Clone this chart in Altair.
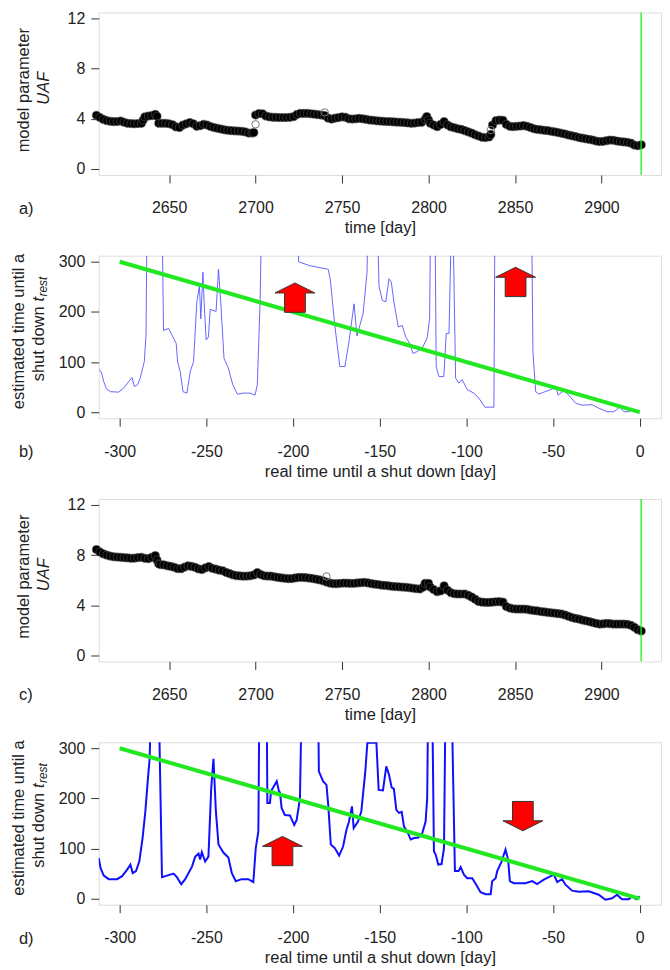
import altair as alt
import pandas as pd

FONT = "Liberation Sans"
TXT = "#222222"
BOX = "#333333"
W, H = 564, 163

# ---------------- data ----------------
# panel a: model parameter UAF over time (day, value)
uaf_a_points = [
    (2608, 4.28), (2610, 4.10), (2612, 3.95), (2614, 3.85), (2616, 3.80), (2618, 3.77), (2620, 3.78),
    (2622, 3.82), (2624, 3.72), (2626, 3.64), (2628, 3.62), (2630, 3.60), (2632, 3.62), (2634, 3.64),
    (2635, 3.90), (2636, 4.15), (2638, 4.22), (2640, 4.25), (2642, 4.35), (2643, 4.20), (2644, 3.64),
    (2646, 3.64), (2648, 3.64), (2650, 3.60), (2652, 3.52), (2654, 3.35), (2656, 3.30), (2658, 3.50),
    (2660, 3.60), (2662, 3.70), (2664, 3.60), (2666, 3.40), (2668, 3.45), (2670, 3.56), (2672, 3.50),
    (2674, 3.38), (2676, 3.30), (2678, 3.24), (2680, 3.18), (2682, 3.12), (2684, 3.08), (2686, 3.05),
    (2688, 3.03), (2690, 3.02), (2692, 3.00), (2694, 2.95), (2696, 2.86), (2698, 2.86), (2699, 2.90),
    (2700, 4.30), (2702, 4.42), (2704, 4.40), (2706, 4.22), (2708, 4.15), (2710, 4.12), (2712, 4.11),
    (2714, 4.10), (2716, 4.10), (2718, 4.10), (2720, 4.12), (2722, 4.17), (2724, 4.35), (2726, 4.43),
    (2728, 4.43), (2730, 4.43), (2732, 4.40), (2734, 4.37), (2736, 4.33), (2738, 4.30), (2740, 4.25),
    (2742, 4.05), (2744, 3.98), (2746, 4.05), (2748, 4.10), (2750, 4.15), (2752, 4.12), (2754, 4.00),
    (2756, 3.98), (2758, 4.00), (2760, 4.03), (2762, 4.00), (2764, 3.95), (2766, 3.90), (2768, 3.88),
    (2770, 3.84), (2772, 3.82), (2774, 3.80), (2776, 3.78), (2778, 3.77), (2780, 3.75), (2782, 3.73),
    (2784, 3.72), (2786, 3.70), (2788, 3.67), (2790, 3.64), (2792, 3.66), (2794, 3.70), (2796, 3.72),
    (2798, 3.95), (2799, 4.17), (2800, 3.90), (2801, 3.64), (2803, 3.50), (2805, 3.37), (2807, 3.55),
    (2809, 3.77), (2811, 3.50), (2813, 3.35), (2815, 3.28), (2817, 3.20), (2819, 3.15), (2821, 3.05),
    (2823, 2.95), (2825, 2.85), (2827, 2.72), (2829, 2.62), (2831, 2.52), (2833, 2.50), (2835, 2.55),
    (2836, 2.75), (2837, 3.50), (2839, 3.85), (2841, 3.90), (2843, 3.88), (2845, 3.55), (2847, 3.40),
    (2849, 3.37), (2851, 3.40), (2853, 3.42), (2855, 3.45), (2857, 3.40), (2859, 3.30), (2861, 3.20),
    (2863, 3.15), (2865, 3.12), (2867, 3.08), (2869, 3.05), (2871, 3.00), (2873, 2.95), (2875, 2.90),
    (2877, 2.84), (2879, 2.78), (2881, 2.70), (2883, 2.64), (2885, 2.58), (2887, 2.50), (2889, 2.45),
    (2891, 2.40), (2893, 2.35), (2895, 2.30), (2897, 2.22), (2899, 2.18), (2901, 2.20), (2903, 2.25),
    (2905, 2.30), (2907, 2.28), (2909, 2.22), (2911, 2.18), (2913, 2.15), (2915, 2.12), (2917, 2.05),
    (2919, 1.90), (2921, 1.85), (2923, 1.92),
]
uaf_a_open = [(2700, 3.56), (2740, 4.51), (2836, 3.10)]

# panel c: model parameter UAF over time (day, value)
uaf_c_points = [
    (2608, 8.45), (2610, 8.25), (2612, 8.10), (2614, 8.00), (2616, 7.92), (2618, 7.87), (2620, 7.85),
    (2622, 7.83), (2624, 7.80), (2626, 7.78), (2628, 7.75), (2630, 7.76), (2632, 7.80), (2634, 7.83),
    (2636, 7.75), (2638, 7.72), (2640, 7.83), (2642, 7.96), (2643, 7.60), (2644, 7.30), (2645, 7.25),
    (2647, 7.22), (2649, 7.15), (2651, 7.10), (2653, 7.03), (2655, 6.92), (2657, 6.92), (2659, 7.05),
    (2661, 7.15), (2663, 7.10), (2665, 7.03), (2667, 6.90), (2669, 6.85), (2671, 6.98), (2673, 7.08),
    (2675, 6.95), (2677, 6.88), (2679, 6.80), (2681, 6.75), (2683, 6.62), (2685, 6.52), (2687, 6.42),
    (2689, 6.36), (2691, 6.34), (2693, 6.32), (2695, 6.33), (2697, 6.35), (2699, 6.42), (2701, 6.60),
    (2703, 6.45), (2705, 6.35), (2707, 6.33), (2709, 6.32), (2711, 6.27), (2713, 6.22), (2715, 6.18),
    (2717, 6.15), (2719, 6.12), (2721, 6.13), (2723, 6.18), (2725, 6.22), (2727, 6.22), (2729, 6.20),
    (2731, 6.17), (2733, 6.13), (2735, 6.08), (2737, 6.02), (2739, 5.95), (2741, 5.85), (2743, 5.77),
    (2745, 5.72), (2747, 5.72), (2749, 5.75), (2751, 5.77), (2753, 5.76), (2755, 5.75), (2757, 5.75),
    (2759, 5.78), (2761, 5.80), (2763, 5.82), (2765, 5.78), (2767, 5.72), (2769, 5.68), (2771, 5.65),
    (2773, 5.60), (2775, 5.58), (2777, 5.55), (2779, 5.51), (2781, 5.49), (2783, 5.47), (2785, 5.45),
    (2787, 5.43), (2789, 5.40), (2791, 5.36), (2793, 5.32), (2795, 5.30), (2797, 5.45), (2798, 5.75),
    (2800, 5.75), (2801, 5.45), (2803, 5.25), (2805, 5.08), (2807, 5.15), (2809, 5.55), (2811, 5.20),
    (2813, 5.00), (2815, 4.92), (2817, 4.90), (2819, 4.90), (2821, 4.90), (2823, 4.80), (2825, 4.65),
    (2827, 4.48), (2829, 4.30), (2831, 4.25), (2833, 4.23), (2835, 4.23), (2837, 4.25), (2839, 4.28),
    (2841, 4.29), (2843, 4.25), (2845, 3.90), (2847, 3.78), (2849, 3.72), (2851, 3.70), (2853, 3.70),
    (2855, 3.70), (2857, 3.68), (2859, 3.62), (2861, 3.58), (2863, 3.55), (2865, 3.50), (2867, 3.47),
    (2869, 3.43), (2871, 3.40), (2873, 3.37), (2875, 3.33), (2877, 3.30), (2879, 3.22), (2881, 3.12),
    (2883, 3.02), (2885, 2.95), (2887, 2.90), (2889, 2.82), (2891, 2.76), (2893, 2.70), (2895, 2.62),
    (2897, 2.55), (2899, 2.50), (2901, 2.52), (2903, 2.55), (2905, 2.53), (2907, 2.50), (2909, 2.50),
    (2911, 2.50), (2913, 2.50), (2915, 2.48), (2917, 2.40), (2919, 2.25), (2921, 2.05), (2923, 1.95),
]
uaf_c_open = [(2741, 6.30)]

shutdown_day = 2922.9

# panel b: estimated time until shut down vs real time until shut down
days_b = [-312.1, -310.7, -309.2, -307.7, -305.4, -300.6, -297.7, -294.8, -292.9, -291.5, -289.6, -288.1,
          -285.8, -284.8, -284.2, -275.6, -274.7, -271.8, -269.3, -267.4, -266.6, -265.1, -263.5, -261.2,
          -259.3, -257.4, -255.5, -254.0, -253.2, -252.0, -251.3, -250.1, -248.8, -247.8, -244.4, -243.0,
          -241.7, -239.8, -237.3, -234.8, -232.1, -228.7, -224.8, -221.9, -220.6, -219.0, -218.1, -197.0,
          -196.8, -190.3, -179.7, -178.4, -175.9, -173.0, -170.1, -167.7, -164.8, -163.1, -159.6, -157.3,
          -156.7, -151.4, -150.4, -148.5, -146.5, -144.6, -143.3, -141.8, -139.3, -137.0, -135.0, -132.7,
          -130.8, -128.3, -125.4, -122.6, -121.2, -120.6, -118.1, -117.4, -115.8, -113.0, -111.6, -110.0,
          -108.5, -107.8, -106.2, -104.3, -102.4, -99.5, -95.6, -92.8, -89.3, -84.1, -83.5, -62.4, -61.6,
          -60.0, -58.2, -55.3, -51.4, -48.2, -47.1, -43.8, -41.5, -37.0, -33.2, -27.5, -23.6, -18.8, -14.9,
          -11.5, -9.2, -6.3, -4.0, -1.5, 0.0]
trest_b = [85, 81, 61, 47, 41, 40, 48, 61, 69, 51, 55, 69,
           101, 154, 400, 400, 163, 167, 150, 137, 101, 81, 41, 38,
           81, 101, 219, 252, 186, 279, 219, 144, 150, 205, 201, 285,
           219, 107, 88, 55, 36, 38, 38, 34, 55, 219, 400, 400,
           300, 292, 285, 262, 173, 91, 91, 141, 216, 152, 196, 279,
           400, 400, 252, 223, 220, 266, 259, 220, 170, 173, 150, 137,
           117, 121, 128, 148, 186, 400, 400, 91, 71, 71, 157, 157,
           400, 400, 68, 58, 65, 45, 38, 28, 10, 10, 400, 400, 121,
           41, 36, 40, 45, 49, 34, 43, 36, 18, 14, 15, 8, 1, 1,
           10, 1, 1, 5, 4, 0]

# panel d
days_d = [-312.1, -311.0, -309.2, -306.3, -301.5, -298.6, -295.7, -293.8, -292.5, -290.6, -288.7, -286.8,
          -285.2, -283.7, -282.7, -281.9, -277.5, -275.6, -272.7, -268.9, -267.0, -264.5, -262.2, -258.3,
          -256.4, -254.5, -253.6, -252.6, -250.7, -248.8, -247.2, -245.9, -244.5, -243.0, -240.2, -237.3,
          -235.3, -233.0, -229.6, -225.8, -222.9, -221.5, -220.0, -219.4, -215.2, -214.8, -213.3, -212.7,
          -209.4, -208.1, -207.5, -206.6, -204.7, -201.8, -199.3, -197.9, -196.0, -195.0, -185.5, -185.1,
          -182.6, -180.7, -179.7, -178.2, -175.9, -173.4, -171.1, -169.2, -167.7, -166.0, -165.0, -162.5,
          -160.6, -158.3, -157.1, -151.9, -150.6, -148.1, -146.2, -144.6, -143.1, -141.8, -140.4, -138.9,
          -137.3, -136.0, -134.1, -132.1, -130.2, -127.7, -125.4, -123.5, -122.6, -122.0, -119.7, -118.7,
          -117.7, -116.2, -114.3, -112.9, -112.0, -108.5, -106.6, -104.5, -103.3, -101.4, -99.5, -96.6,
          -94.3, -91.8, -88.9, -86.0, -85.1, -83.1, -82.2, -79.7, -77.4, -75.9, -74.9, -72.6, -69.7, -65.9,
          -62.0, -59.2, -55.3, -52.4, -49.5, -47.6, -44.8, -42.8, -39.0, -35.1, -29.4, -23.6, -19.8, -15.9,
          -13.1, -10.2, -6.3, -4.4, -2.1, 0.0]
trest_d = [81, 61, 46, 39, 39, 45, 58, 68, 51, 55, 74, 121,
           174, 240, 280, 400, 400, 43, 46, 50, 43, 29, 39, 64,
           84, 90, 78, 93, 74, 84, 220, 279, 174, 108, 92, 82,
           51, 35, 39, 39, 33, 101, 134, 400, 400, 191, 191, 214,
           234, 214, 212, 181, 167, 166, 147, 157, 200, 400, 400, 254,
           234, 227, 187, 108, 101, 86, 104, 137, 154, 184, 141, 154,
           174, 254, 311, 311, 217, 216, 264, 247, 222, 219, 177, 171,
           173, 144, 134, 118, 121, 122, 131, 154, 200, 400, 400, 94,
           88, 68, 69, 101, 400, 400, 55, 55, 63, 48, 41, 41,
           28, 13, 9, 9, 35, 41, 55, 74, 98, 78, 35, 31, 31, 31,
           35, 29, 38, 43, 48, 33, 39, 28, 16, 14, 15, 8, -2, 1,
           8, -1, -1, 5, -1, 5]

ideal_days = [-300, 0]
ideal_trest = [300, 0]

arrows_b = [(-198.9, 228.4, "up"), (-71.6, 259.7, "up")]
arrows_d = [(-206.1, 95.0, "up"), (-67.4, 164.7, "down")]

time_ticks = [2650, 2700, 2750, 2800, 2850, 2900]
uaf_ticks = [0, 2, 4, 6, 8, 10, 12]
real_ticks = [-300, -250, -200, -150, -100, -50, 0]
trest_ticks = [0, 50, 100, 150, 200, 250, 300]

UP = "M0,-0.735L1,-0.235L0.52,-0.235L0.52,0.735L-0.52,0.735L-0.52,-0.235L-1,-0.235Z"
DOWN = "M0,0.735L1,0.235L0.52,0.235L0.52,-0.735L-0.52,-0.735L-0.52,0.235L-1,0.235Z"


def make_axis(**kw):
    base = dict(domain=False, grid=False, ticks=True, tickColor=BOX, tickSize=8, tickWidth=1,
                labelFont=FONT, labelFontSize=16, labelColor=TXT, labelOverlap=False,
                titleFont=FONT, titleFontSize=16.5, titleFontWeight="normal", titleColor=TXT)
    base.update(kw)
    return alt.Axis(**base)


def text_layer(text, x, y, size=16.5, italic=False, align="center", angle=0):
    kw = dict(text=text, font=FONT, fontSize=size, color=TXT, align=align, baseline="middle")
    if italic:
        kw["fontStyle"] = "italic"
    if angle:
        kw["angle"] = angle
    return alt.Chart(alt.Data(values=[{"k": 1}])).mark_text(**kw).encode(
        x=alt.value(x), y=alt.value(y))


def uaf_panel(points, opens, letter):
    df = pd.DataFrame(points, columns=["day", "uaf"])
    odf = pd.DataFrame(opens, columns=["day", "uaf"])
    xs = alt.Scale(domain=[2609.3, 2934.4], nice=False, zero=False)
    ys = alt.Scale(domain=[-0.48, 12.48], nice=False, zero=False)
    xax = make_axis(values=time_ticks, title="time [day]", labelPadding=17, titlePadding=4,
                    labelExpr="'' + datum.value")
    yax = make_axis(values=uaf_ticks, title=None, labelPadding=6,
                    labelExpr="datum.value % 4 === 0 ? '' + datum.value : ''")
    pts = alt.Chart(df).mark_circle(size=68, color="black", opacity=1, stroke="#555555",
                                    strokeWidth=0.6).encode(
        x=alt.X("day:Q", scale=xs, axis=xax),
        y=alt.Y("uaf:Q", scale=ys, axis=yax))
    opn = alt.Chart(odf).mark_point(size=55, color="#777777", filled=False, strokeWidth=1,
                                    opacity=1).encode(x="day:Q", y="uaf:Q")
    vline = alt.Chart(pd.DataFrame({"day": [shutdown_day]})).mark_rule(
        color="#1ef01e", strokeWidth=1.3).encode(x="day:Q")
    return alt.layer(
        pts, opn, vline,
        text_layer("model parameter", -75, 78, angle=270),
        text_layer("UAF", -55, 76, italic=True, angle=270),
        text_layer(letter, -80, H + 34, align="left"),
    ).properties(width=W, height=H)


def trest_panel(days, vals, arrows, letter, color, width, opacity):
    df = pd.DataFrame({"day": days, "trest": vals})
    idf = pd.DataFrame({"day": ideal_days, "trest": ideal_trest})
    xs = alt.Scale(domain=[-312.1, 12.3], nice=False, zero=False)
    ys = alt.Scale(domain=[-12, 312], nice=False, zero=False)
    xax = make_axis(values=real_ticks, title="real time until a shut down [day]", labelPadding=17,
                    titlePadding=4, labelExpr="'' + datum.value")
    yax = make_axis(values=trest_ticks, title=None, labelPadding=6,
                    labelExpr="datum.value % 100 === 0 ? '' + datum.value : ''")
    line = alt.Chart(df).mark_line(color=color, strokeWidth=width, opacity=opacity, clip=True).encode(
        x=alt.X("day:Q", scale=xs, axis=xax),
        y=alt.Y("trest:Q", scale=ys, axis=yax))
    ideal = alt.Chart(idf).mark_line(color="#22e822", strokeWidth=4).encode(x="day:Q", y="trest:Q")
    layers = [line, ideal]
    for (ax, ay, d) in arrows:
        adf = pd.DataFrame({"day": [ax], "trest": [ay]})
        layers.append(alt.Chart(adf).mark_point(
            shape=UP if d == "up" else DOWN, size=1600, filled=True, color="#ff0000",
            stroke="#333333", strokeWidth=1, opacity=1).encode(x="day:Q", y="trest:Q"))
    # y title: two lines, second with italic t and subscript "rest"
    layers += [
        text_layer("estimated time until a", -80, 76, angle=270),
        text_layer("shut down", -60, 126, angle=270, align="left"),
        text_layer("t", -60, 46, italic=True, angle=270, align="left"),
        text_layer("rest", -56, 41, size=12, italic=True, angle=270, align="left"),
        text_layer(letter, -80, H + 34, align="left"),
    ]
    return alt.layer(*layers).properties(width=W, height=H)


panel_a = uaf_panel(uaf_a_points, uaf_a_open, "a)")
panel_b = trest_panel(days_b, trest_b, arrows_b, "b)", "#4b4bff", 1, 0.85)
panel_c = uaf_panel(uaf_c_points, uaf_c_open, "c)")
panel_d = trest_panel(days_d, trest_d, arrows_d, "d)", "#1010ff", 2, 1)

chart = alt.vconcat(panel_a, panel_b, panel_c, panel_d, spacing=81, bounds="flush").properties(
    padding={"left": 2, "top": 0, "right": 0, "bottom": 0}
).configure_view(stroke=BOX, strokeWidth=1).configure(background="white")

chart.save("out.html", embed_options={"renderer": "svg", "actions": False})
